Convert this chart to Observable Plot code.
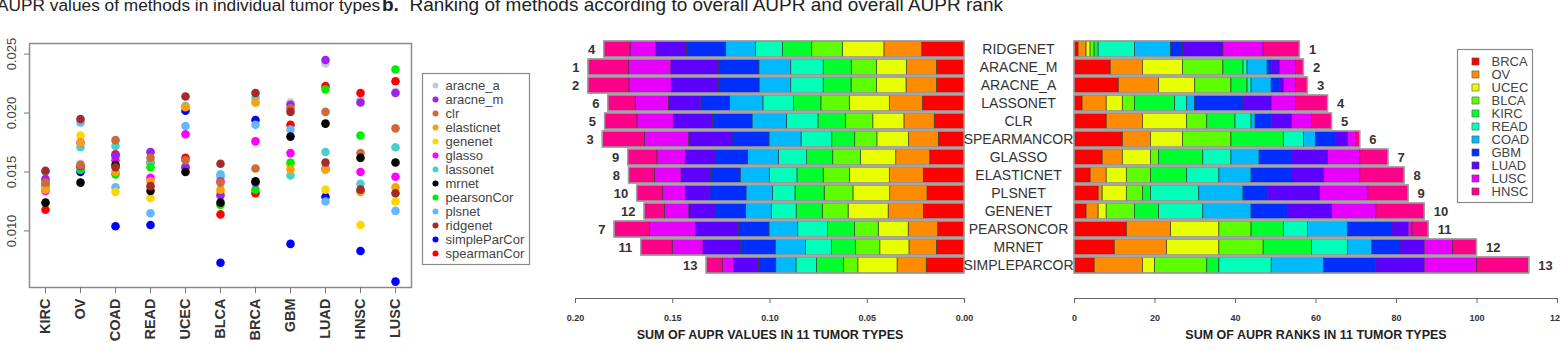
<!DOCTYPE html>
<html>
<head>
<meta charset="utf-8">
<script src="https://cdn.jsdelivr.net/npm/d3@7"></script>
<script src="https://cdn.jsdelivr.net/npm/@observablehq/plot@0.6"></script>
<style>
  html, body { margin: 0; padding: 0; background: #fff; }
  body { width: 1560px; height: 351px; overflow: hidden; position: relative;
         font-family: "Liberation Sans", Arial, sans-serif; }
  .abs { position: absolute; }
  .title { position: absolute; top: -5px; line-height: 20px; color: #222; white-space: nowrap; }
  svg { overflow: visible; }
</style>
</head>
<body>
<div class="title" style="left:-3px;font-size:17.3px">AUPR values of methods in individual tumor types</div>
<div class="title" style="left:382px;font-size:19px"><b>b.</b>&nbsp;&nbsp;Ranking of methods according to overall AUPR and overall AUPR rank</div>
<div id="dots" class="abs" style="left:0;top:0"></div>
<div id="dotLegend" class="abs" style="left:422px;top:55px"></div>
<div id="barsL" class="abs" style="left:540px;top:0"></div>
<div id="barsR" class="abs" style="left:1060px;top:0"></div>
<div id="barLegend" class="abs" style="left:1457px;top:33px"></div>
<script>
// ---------- categories ----------
const tumorsX = ["KIRC","OV","COAD","READ","UCEC","BLCA","BRCA","GBM","LUAD","HNSC","LUSC"];
const tumorsStack = ["BRCA","OV","UCEC","BLCA","KIRC","READ","COAD","GBM","LUAD","LUSC","HNSC"];
const tumorColors = ["#FF0000","#FF8B00","#E8FF00","#5DFF00","#00FF2E","#00FFB9","#00B9FF","#002EFF","#5D00FF","#E800FF","#FF008B"];
const methods = ["aracne_a","aracne_m","clr","elasticnet","genenet","glasso","lassonet","mrnet","pearsonCor","plsnet","ridgenet","simpleParCor","spearmanCor"];
const methodColors = ["#c9c6d6","#a020f0","#cd6a3a","#f7a010","#ffd700","#ff00ff","#48d1cc","#000000","#00ee00","#63b8ff","#a52a2a","#0000ff","#ff0000"];
const drawOrder = ["aracne_a","simpleParCor","spearmanCor","plsnet","genenet","lassonet","glasso","pearsonCor","aracne_m","elasticnet","clr","mrnet","ridgenet"];

// ---------- AUPR per method (tumorsX order) ----------
const aracne_a     = [0.0143,0.0157,0.0163,0.0167,0.0152,0.0131,0.0141,0.0209,0.0242,0.0211,0.0218];
const aracne_m     = [0.0144,0.0155,0.0164,0.0167,0.0154,0.0130,0.0141,0.0207,0.0245,0.0209,0.0217];
const clr          = [0.0141,0.0156,0.0177,0.0162,0.0160,0.0141,0.0153,0.0204,0.0201,0.0166,0.0187];
const elasticnet   = [0.0135,0.0175,0.0150,0.0142,0.0205,0.0135,0.0209,0.0152,0.0152,0.0133,0.0137];
const genenet      = [0.0134,0.0181,0.0133,0.0128,0.0206,0.0133,0.0209,0.0156,0.0135,0.0105,0.0125];
const glasso       = [0.0134,0.0175,0.0160,0.0145,0.0182,0.0142,0.0176,0.0166,0.0153,0.0150,0.0146];
const lassonet     = [0.0140,0.0171,0.0172,0.0158,0.0206,0.0146,0.0213,0.0147,0.0167,0.0140,0.0171];
const mrnet        = [0.0124,0.0141,0.0156,0.0134,0.0150,0.0124,0.0142,0.0180,0.0191,0.0162,0.0158];
const pearsonCor   = [0.0138,0.0152,0.0148,0.0154,0.0154,0.0122,0.0135,0.0158,0.0220,0.0181,0.0237];
const plsnet       = [0.0150,0.0192,0.0137,0.0115,0.0189,0.0148,0.0190,0.0186,0.0125,0.0134,0.0117];
const ridgenet     = [0.0151,0.0195,0.0154,0.0138,0.0214,0.0157,0.0217,0.0201,0.0158,0.0135,0.0132];
const simpleParCor = [0.0140,0.0150,0.0104,0.0105,0.0202,0.0073,0.0194,0.0089,0.0129,0.0083,0.0057];
const spearmanCor  = [0.0118,0.0154,0.0165,0.0158,0.0162,0.0114,0.0132,0.0190,0.0223,0.0217,0.0227];

// ---------- AUPR ranks per method (tumorsStack order) ----------
const rank_ridgenet     = [1,2,1,1,1,9,9,3,10,10,9];
const rank_aracne_m     = [9,8,10,10,5,1,5,1,2,4,2];
const rank_aracne_a     = [11,10,9,9,4,1,5,2,1,3,3];
const rank_lassonet     = [2,6,4,3,10,3,2,12,7,6,8];
const rank_clr          = [8,9,11,5,7,4,1,4,5,5,5];
const rank_spearmanCor  = [12,7,8,12,13,5,3,5,3,2,1];
const rank_glasso       = [7,5,7,2,11,7,7,8,9,8,7];
const rank_elasticnet   = [4,4,5,6,9,8,8,10,8,9,11];
const rank_plsnet       = [6,1,6,4,2,12,11,6,13,12,10];
const rank_genenet      = [3,3,2,7,6,11,12,9,11,11,12];
const rank_pearsonCor   = [13,11,12,8,8,6,10,11,4,1,4];
const rank_mrnet        = [10,13,13,11,12,9,6,7,6,7,6];
const rank_simpleParCor = [5,12,3,13,3,13,13,13,12,13,13];

// ---------- panel b rows ----------
const rowOrder = ["ridgenet","aracne_m","aracne_a","lassonet","clr","spearmanCor","glasso","elasticnet","plsnet","genenet","pearsonCor","mrnet","simpleParCor"];
const auprRankLabels = [4,1,2,6,5,3,9,8,10,12,7,11,13];
const rankSumLabels = [1,2,3,4,5,6,7,8,9,10,11,12,13];
const auprTicks = [0.20,0.15,0.10,0.05,0.00];
const rankTicks = [0,20,40,60,80,100,120];
const dotTicks = [0.010,0.015,0.020,0.025];
const auprTitle = "SUM OF AUPR VALUES IN 11 TUMOR TYPES";
const rankTitle = "SUM OF AUPR RANKS IN 11 TUMOR TYPES";

// ---------- build tables ----------
const aupr = {aracne_a, aracne_m, clr, elasticnet, genenet, glasso, lassonet, mrnet, pearsonCor, plsnet, ridgenet, simpleParCor, spearmanCor};
const ranks = {ridgenet: rank_ridgenet, aracne_m: rank_aracne_m, aracne_a: rank_aracne_a, lassonet: rank_lassonet, clr: rank_clr,
  spearmanCor: rank_spearmanCor, glasso: rank_glasso, elasticnet: rank_elasticnet, plsnet: rank_plsnet, genenet: rank_genenet,
  pearsonCor: rank_pearsonCor, mrnet: rank_mrnet, simpleParCor: rank_simpleParCor};

const dotData = drawOrder.flatMap(m => aupr[m].map((v, i) => ({method: m, tumor: tumorsX[i], value: v})));
const rowLabels = rowOrder.map(m => m.toUpperCase());
const rows = rowOrder.map((m, i) => ({label: m.toUpperCase(), total: d3.sum(aupr[m]), rankTotal: d3.sum(ranks[m]),
  auprRank: String(auprRankLabels[i]), rankLabel: String(rankSumLabels[i])}));
const auprSegs = rowOrder.flatMap(m => tumorsStack.map(t => ({label: m.toUpperCase(), tumor: t, value: aupr[m][tumorsX.indexOf(t)]})));
const rankSegs = rowOrder.flatMap(m => tumorsStack.map((t, i) => ({label: m.toUpperCase(), tumor: t, value: ranks[m][i]})));

const font = {fontFamily: "'Liberation Sans', Arial, sans-serif", background: "transparent", overflow: "visible"};

// ---------- panel a: dot plot ----------
document.getElementById("dots").append(Plot.plot({
  width: 420, height: 351, marginLeft: 29, marginRight: 9, marginTop: 43, marginBottom: 64,
  style: {...font, fontSize: "13px", color: "#444"},
  x: {type: "point", domain: tumorsX, padding: 0.38},
  y: {domain: [0.0052, 0.0259]},
  color: {domain: methods, range: methodColors},
  marks: [
    Plot.frame({stroke: "#8a8a8a", strokeWidth: 1.5}),
    Plot.axisY({ticks: dotTicks, tickFormat: d3.format(".3f"), tickRotate: -90, textAnchor: "middle", lineAnchor: "middle",
      tickSize: 5, tickPadding: 13, fontSize: 13, stroke: "#777", label: null}),
    Plot.axisX({tickRotate: -90, textAnchor: "end", lineAnchor: "middle", tickSize: 6, tickPadding: 5, fontSize: 14.5,
      fontWeight: "bold", fill: "#333", stroke: "#777", label: null}),
    Plot.dot(dotData, {x: "tumor", y: "value", fill: "method", r: 4.3})
  ]
}));

// ---------- panel a legend ----------
document.getElementById("dotLegend").append(Plot.plot({
  width: 107, height: 215, marginTop: 18, marginBottom: 6, marginLeft: 0, marginRight: 0,
  style: {...font, fontSize: "13px", color: "#444"},
  y: {type: "point", domain: methods, axis: null},
  color: {domain: methods, range: methodColors},
  marks: [
    Plot.frame({stroke: "#8a8a8a", strokeWidth: 1.2}),
    Plot.dot(methods, {y: d => d, fill: d => d, r: 3, frameAnchor: "left", dx: 13}),
    Plot.text(methods, {y: d => d, text: d => d, frameAnchor: "left", dx: 23, textAnchor: "start", fill: "#444", fontSize: 13})
  ]
}));

// ---------- panel b left: summed AUPR ----------
const yBand = {type: "band", domain: rowLabels, range: [36, 277.5], padding: 0.1, axis: null};
document.getElementById("barsL").append(Plot.plot({
  width: 534, height: 351, marginLeft: 35, marginRight: 110, marginTop: 36, marginBottom: 53,
  style: {...font, fontSize: "10px", color: "#333"},
  x: {domain: [0.2, 0]},
  y: yBand,
  color: {domain: tumorsStack, range: tumorColors},
  marks: [
    Plot.barX(auprSegs, Plot.stackX({x: "value", y: "label", fill: "tumor", order: tumorsStack, stroke: "#3a3a3a", strokeWidth: 0.7})),
    Plot.barX(rows, {x: "total", y: "label", fill: "none", stroke: "#a0a0a0", strokeWidth: 1.5}),
    Plot.text(rows, {x: "total", y: "label", text: "auprRank", textAnchor: "end", dx: -9, fontWeight: "bold", fontSize: 13, fill: "#333"}),
    Plot.text(rows, {y: "label", text: "label", frameAnchor: "right", dx: 54, textAnchor: "middle", fontSize: 14, fill: "#333"}),
    Plot.frame({anchor: "bottom", stroke: "#666"}),
    Plot.axisX({ticks: auprTicks, tickFormat: d3.format(".2f"), tickSize: 5, tickPadding: 11, fontSize: 9, fontWeight: "bold", stroke: "#666", fill: "#333", label: null}),
    Plot.text([auprTitle], {frameAnchor: "bottom", dy: 40, fontWeight: "bold", fontSize: 12.5, fill: "#222"})
  ]
}));

// ---------- panel b right: summed ranks ----------
document.getElementById("barsR").append(Plot.plot({
  width: 500, height: 351, marginLeft: 14, marginRight: 3, marginTop: 36, marginBottom: 53,
  style: {...font, fontSize: "10px", color: "#333"},
  x: {domain: [0, 120]},
  y: yBand,
  color: {domain: tumorsStack, range: tumorColors},
  marks: [
    Plot.barX(rankSegs, Plot.stackX({x: "value", y: "label", fill: "tumor", order: tumorsStack, stroke: "#3a3a3a", strokeWidth: 0.7})),
    Plot.barX(rows, {x: "rankTotal", y: "label", fill: "none", stroke: "#a0a0a0", strokeWidth: 1.5}),
    Plot.text(rows, {x: "rankTotal", y: "label", text: "rankLabel", textAnchor: "start", dx: 9, fontWeight: "bold", fontSize: 13, fill: "#333"}),
    Plot.frame({anchor: "bottom", stroke: "#666"}),
    Plot.axisX({ticks: rankTicks, tickFormat: d3.format("d"), tickSize: 5, tickPadding: 11, fontSize: 9, fontWeight: "bold", stroke: "#666", fill: "#333", label: null}),
    Plot.text([rankTitle], {frameAnchor: "bottom", dy: 40, fontWeight: "bold", fontSize: 12.5, fill: "#222"})
  ]
}));

// ---------- panel b legend ----------
document.getElementById("barLegend").append(Plot.plot({
  width: 75, height: 183, marginTop: 16, marginBottom: 14, marginLeft: 0, marginRight: 0,
  style: {...font, fontSize: "13px", color: "#444"},
  y: {type: "point", domain: tumorsStack, axis: null},
  color: {domain: tumorsStack, range: tumorColors},
  marks: [
    Plot.frame({fill: "#fff", stroke: "#8a8a8a", strokeWidth: 1.2}),
    Plot.dot(tumorsStack, {y: d => d, fill: d => d, symbol: "square", r: 4, stroke: "#555", strokeWidth: 0.6, frameAnchor: "left", dx: 18}),
    Plot.text(tumorsStack, {y: d => d, text: d => d, frameAnchor: "left", dx: 34, textAnchor: "start", fill: "#444", fontSize: 13})
  ]
}));
</script>
</body>
</html>
